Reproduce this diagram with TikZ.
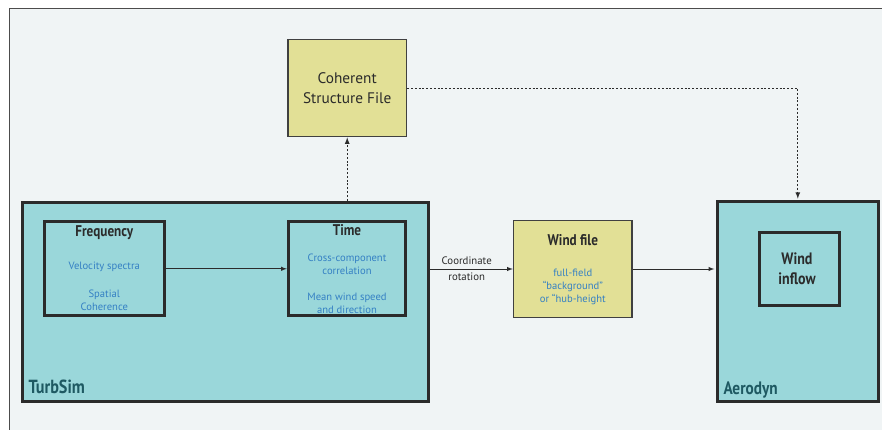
\documentclass[tikz,border=0pt]{standalone}
\usepackage{fontspec}
\setmainfont{PT Sans}
\newfontfamily\condfont[FakeStretch=0.85]{PT Sans}
\definecolor{pagegrey}{HTML}{F0F4F5}
\definecolor{khaki}{HTML}{E2E096}
\definecolor{tealbox}{HTML}{9AD7DA}
\definecolor{darkteal}{HTML}{1E5962}
\definecolor{noteblue}{HTML}{3480C4}
\definecolor{inkgrey}{HTML}{2B2B2B}
\begin{document}
\begin{tikzpicture}[x=1pt, y=-1pt]
    \tikzstyle{tool} = [draw=inkgrey, line width=3pt, fill=tealbox, inner sep=0pt]
    \tikzstyle{stage} = [draw=inkgrey, line width=3pt, inner sep=0pt]
    \tikzstyle{file} = [draw=inkgrey!90, line width=1.5pt, fill=khaki, inner sep=0pt]
    \tikzstyle{title} = [font=\condfont\bfseries\fontsize{15.5}{17}\selectfont, text=inkgrey, inner sep=0pt]
    \tikzstyle{note} = [font=\fontsize{10.6}{13}\selectfont, text=noteblue, align=center, inner sep=0pt]
    \tikzstyle{toolname} = [font=\condfont\bfseries\fontsize{19}{20}\selectfont, text=darkteal, anchor=west, inner sep=0pt]
    \tikzstyle{flow} = [draw=inkgrey, line width=1pt, -latex]
    \tikzstyle{link} = [draw=inkgrey, line width=1.2pt, dash pattern=on 2pt off 1.8pt, -latex]
    \clip (0, 0) rectangle (882, 430);
    \useasboundingbox (0, 0) rectangle (882, 430);
    \fill[white] (0, 0) rectangle (882, 430);
    \fill[pagegrey] (9, 9) rectangle (890, 440);
    \draw[black!70, line width=1pt] (9, 440) -- (9, 9) -- (890, 9);
    \node[file, minimum width=118.5pt, minimum height=97pt, align=center,
          font=\fontsize{15.3}{20}\selectfont, text=inkgrey] (csf) at (347.2, 88.2) {Coherent\\Structure File};
    \node[tool, minimum width=406pt, minimum height=199.5pt] (turbsim) at (225, 301.8) {};
    \node[stage, minimum width=120pt, minimum height=94.3pt] (freq) at (104.3, 268.8) {};
    \node[stage, minimum width=117.4pt, minimum height=94.3pt] (time) at (347, 268.8) {};
    \node[file, minimum width=118.5pt, minimum height=97pt] (windfile) at (572.8, 269) {};
    \node[tool, minimum width=161pt, minimum height=200pt] (aerodyn) at (797.8, 301.7) {};
    \node[stage, minimum width=79.6pt, minimum height=73.4pt] (inflow) at (799.5, 269) {};
    \node[title] (freqtitle) at (104.3, 233) {Frequency};
    \node[note] (velspec) at (104.3, 267) {Velocity spectra};
    \node[note] (spatial) at (104.3, 300) {Spatial\\Coherence};
    \node[title] (timetitle) at (347, 230) {Time};
    \node[note] (crosscomp) at (347, 264) {Cross-component\\correlation};
    \node[note] (meanwind) at (347, 303.7) {Mean wind speed\\and direction};
    \node[title] (windtitle) at (572.8, 240) {Wind file};
    \node[note] (windkind) at (572.8, 287.3) {full-field\\“background”\\or “hub-height};
    \node[title, align=center, font=\condfont\bfseries\fontsize{16.5}{20}\selectfont] (inflowtitle) at (797, 269) {Wind\\inflow};
    \node[toolname] (turbsimname) at (28.3, 387) {TurbSim};
    \node[toolname, font=\condfont\bfseries\fontsize{18}{20}\selectfont] (aerodynname) at (723.3, 390) {Aerodyn};
    \node[font=\fontsize{10.8}{16}\selectfont, text=inkgrey, align=center, inner sep=0pt] (rotation) at (466.7, 268.7) {Coordinate\\rotation};
    \draw[flow] (freq.east) -- (time.west);
    \draw[flow] (turbsim.east |- windfile.west) -- (windfile.west);
    \draw[flow, shorten >=1.5pt] (windfile.east) -- (aerodyn.west |- windfile.east);
    \draw[link] (csf.south |- turbsim.north) -- (csf.south);
    \draw[link, shorten >=1.5pt] (csf.east) -| (aerodyn.north);
\end{tikzpicture}
\end{document}
